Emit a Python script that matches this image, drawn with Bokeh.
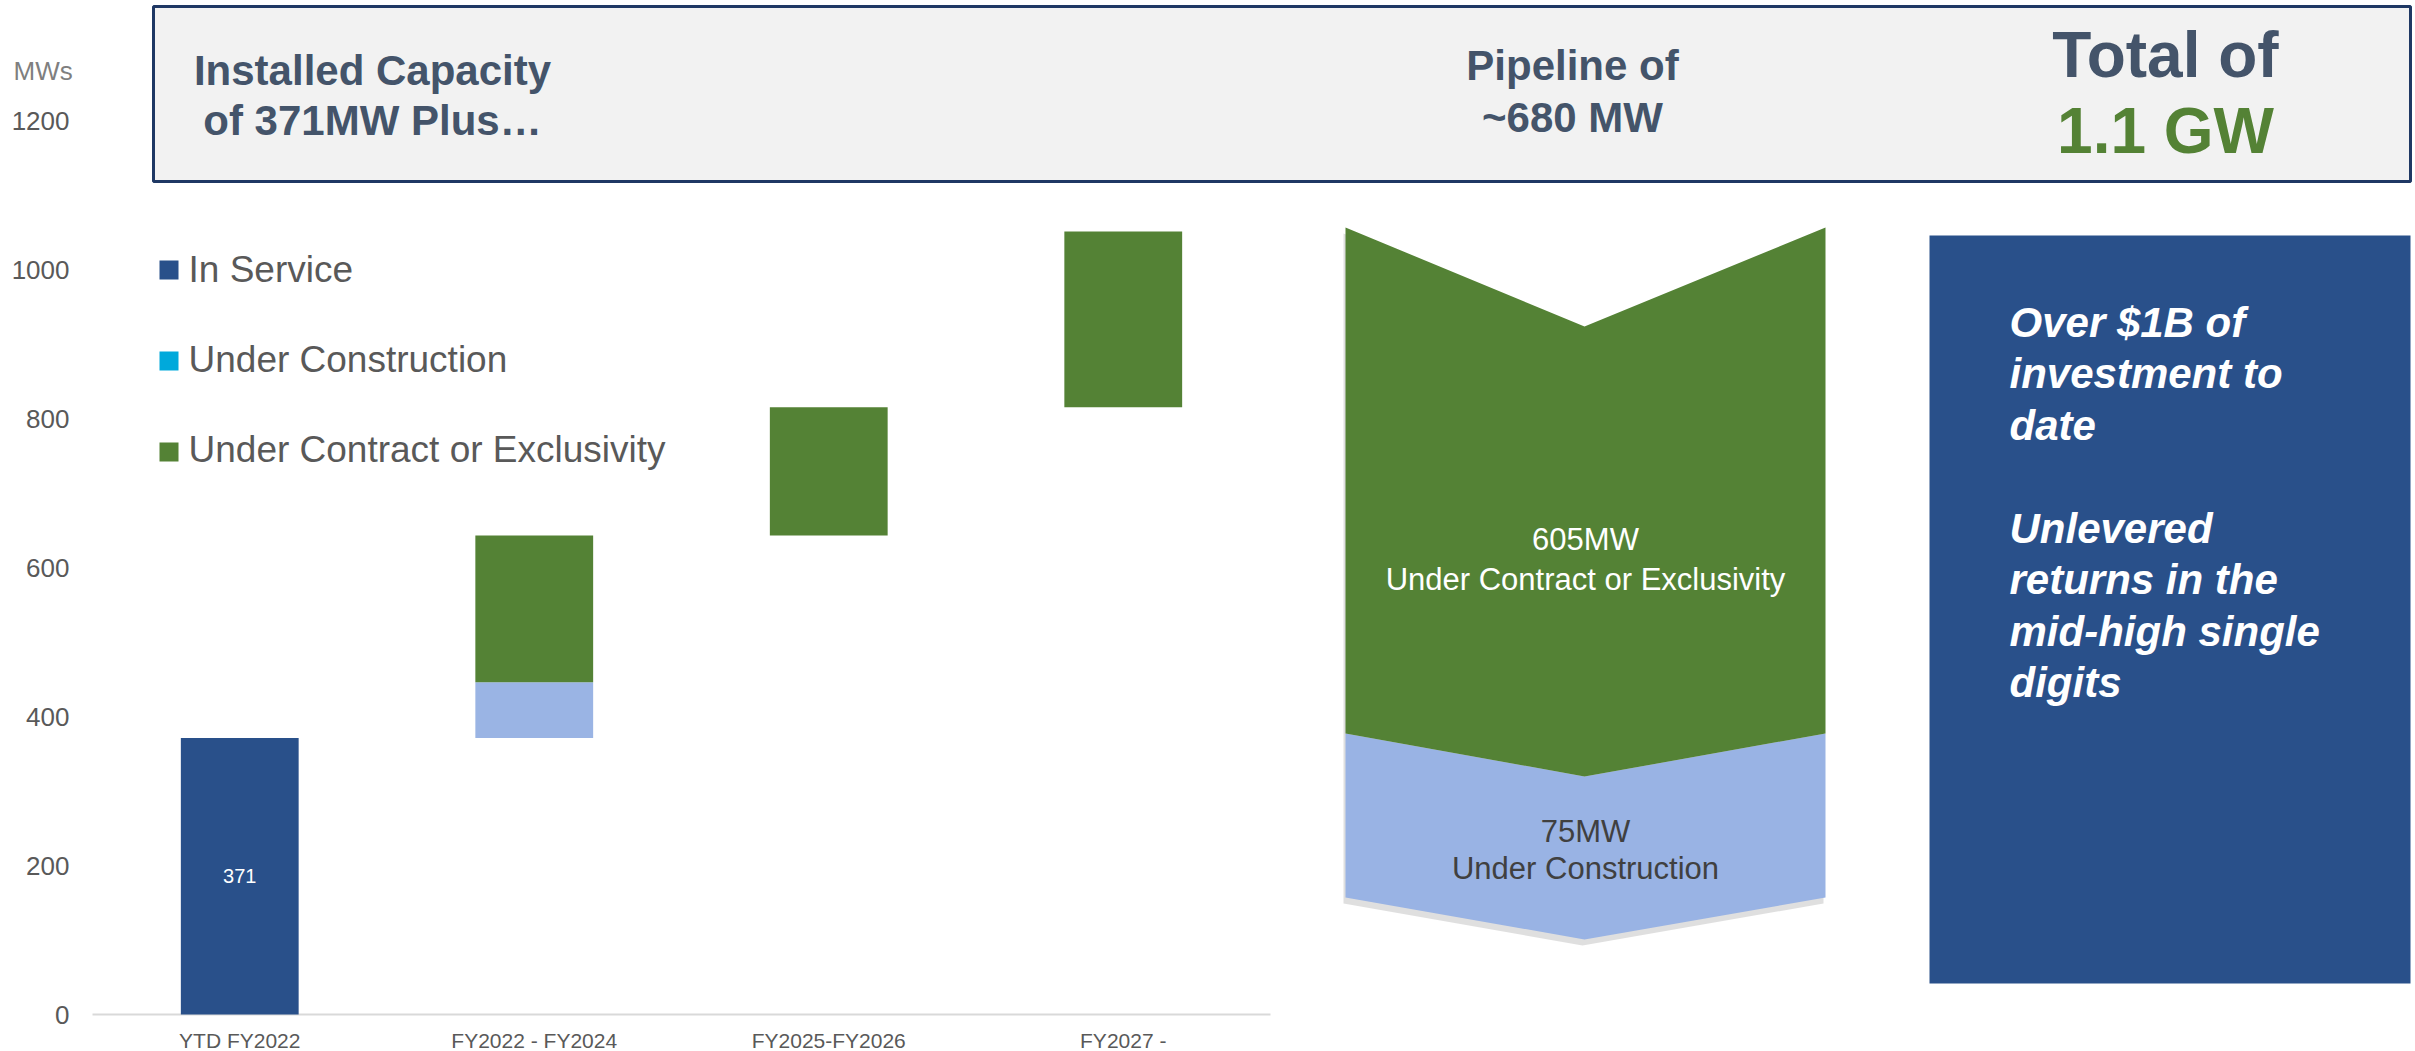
import numpy as np
from bokeh.plotting import figure
from bokeh.models import Range1d, LinearAxis, FixedTicker, ColumnDataSource
from bokeh.core.properties import value
from bokeh.embed import file_html
from bokeh.resources import INLINE

# ---------------- data ----------------
categories = ["YTD FY2022", "FY2022 - FY2024", "FY2025-FY2026", "FY2027 -"]
in_service = [371, 0, 0, 0]
under_construction = [0, 75, 0, 0]
under_contract = [0, 197, 172, 236]
y_ticks = [0, 200, 400, 600, 800, 1000, 1200]
series_names = ["In Service", "Under Construction", "Under Contract or Exclusivity"]
legend_colors = ["#29508A", "#00A9DB", "#548235"]
bar_colors = ["#29508A", "#9AB4E4", "#548235"]
side_notes = ["Over $1B of", "investment to", "date", "",
              "Unlevered", "returns in the", "mid-high single", "digits"]

# ---------------- layout constants ----------------
W, H = 2415, 1051
FONT = "Liberation Sans"
AXIS_X = 92          # pixel x of the value axis / start of first category slot
BASE_Y = 1014        # pixel y of the zero line
CAT_PX = 294.5
MW_PX = 0.745

n = len(categories)
idx = np.arange(n)
ins = np.array(in_service)
uc = np.array(under_construction)
ucx = np.array(under_contract)
totals = ins + uc + ucx
start = np.concatenate([[0], np.cumsum(totals)[:-1]])
is_top = start + ins
uc_top = is_top + uc
ucx_top = uc_top + ucx

x0 = -0.5 - AXIS_X / CAT_PX
p = figure(width=W, height=H, output_backend="svg", toolbar_location=None,
           x_range=Range1d(x0, x0 + W / CAT_PX),
           y_range=Range1d(-(H - BASE_Y) / MW_PX, BASE_Y / MW_PX),
           x_axis_type=None, y_axis_type=None,
           min_border_left=0, min_border_right=0, min_border_top=0, min_border_bottom=0)
p.extra_x_ranges = {"px": Range1d(0, W)}
p.extra_y_ranges = {"py": Range1d(H, 0)}
p.outline_line_color = None
p.background_fill_color = "white"
p.border_fill_color = "white"

# axes (fixed inside the frame)
yaxis = LinearAxis(ticker=FixedTicker(ticks=y_ticks), fixed_location=-0.5,
                   axis_line_color=None,
                   major_tick_line_color=None, minor_tick_line_color=None,
                   major_tick_out=0, major_tick_in=0, major_label_standoff=23,
                   major_label_text_font=FONT, major_label_text_font_size="26px",
                   major_label_text_color="#595959")
p.add_layout(yaxis, "left")

xaxis = LinearAxis(ticker=FixedTicker(ticks=[int(i) for i in idx]), fixed_location=0,
                   major_label_overrides={int(i): c for i, c in zip(idx, categories)},
                   axis_line_color=None, major_tick_line_color=None,
                   minor_tick_line_color=None, major_tick_out=0, major_tick_in=0,
                   major_label_standoff=14, major_label_text_font=FONT,
                   major_label_text_font_size="21px", major_label_text_color="#595959")
p.add_layout(xaxis, "below")

# header box (decoration, pixel coordinates)
p.quad(left=[153], right=[2410], top=[6], bottom=[181], x_range_name="px", y_range_name="py",
       fill_color="#F2F2F2", line_color="#1F3864", line_width=3)

def txt(x, y, t, size, color, style="normal", align="center", baseline="middle"):
    p.text(x=x, y=y, text=t, x_range_name="px", y_range_name="py",
           text_font=value(FONT), text_font_size=size, text_font_style=style,
           text_color=color, text_align=align, text_baseline=baseline)

txt([372, 372], [70, 120], ["Installed Capacity", f"of {in_service[0]}MW Plus\u2026"],
    "42px", "#44546A", "bold")
pipeline = int(uc.sum() + ucx.sum())
txt([1572, 1572], [65, 117], ["Pipeline of", f"~{pipeline} MW"], "42px", "#44546A", "bold")
txt([2165], [54], ["Total of"], "64px", "#44546A", "bold")
txt([2165], [130], [f"{totals.sum() / 1000:.1f} GW"], "64px", "#548235", "bold")

# axis unit label
txt([13], [70], ["MWs"], "26px", "#7F7F7F", align="left")

# baseline
p.segment(x0=[-0.5], x1=[n - 0.5], y0=[0], y1=[0], line_color="#D9D9D9", line_width=2)

# bars
src = ColumnDataSource(dict(x=idx, start=start, is_top=is_top, uc_top=uc_top, ucx_top=ucx_top))
p.vbar(x="x", width=0.4, bottom="start", top="is_top", source=src,
       fill_color=bar_colors[0], line_color=None)
p.vbar(x="x", width=0.4, bottom="is_top", top="uc_top", source=src,
       fill_color=bar_colors[1], line_color=None)
p.vbar(x="x", width=0.4, bottom="uc_top", top="ucx_top", source=src,
       fill_color=bar_colors[2], line_color=None)
p.text(x=[0], y=[in_service[0] / 2], text=[str(in_service[0])], text_color="white",
       text_font=value(FONT), text_font_size="20px", text_align="center",
       text_baseline="middle")

# legend
p.rect(x=[168.5] * 3, y=[269.5, 360.5, 451.5], width=19, height=19,
       x_range_name="px", y_range_name="py", fill_color=legend_colors, line_color=None)
txt([188] * 3, [269, 359, 449], series_names, "37px", "#595959", align="left")

# chevron
p.patch([1343, 1582, 1823, 1823, 1582, 1343], [233, 332, 233, 903, 945, 903],
        x_range_name="px", y_range_name="py",
        fill_color="#808080", fill_alpha=0.25, line_color=None)
p.patch([1345, 1584, 1825, 1825, 1584, 1345], [733, 776, 733, 897, 939, 897],
        x_range_name="px", y_range_name="py", fill_color="#99B3E4", line_color=None)
p.patch([1345, 1584, 1825, 1825, 1584, 1345], [227, 326, 227, 733, 776, 733],
        x_range_name="px", y_range_name="py", fill_color="#548235", line_color=None)
txt([1585, 1585], [539, 579], [f"{int(ucx.sum())}MW", series_names[2]], "31px", "white")
txt([1585, 1585], [831, 868], [f"{int(uc.sum())}MW", series_names[1]], "31px", "#404040")

# blue notes box
p.quad(left=[1929], right=[2410], top=[235], bottom=[983], x_range_name="px", y_range_name="py",
       fill_color="#29508A", line_color=None)
note_y = [321.5 + 51.5 * i for i in range(len(side_notes))]
txt([2009] * len(side_notes), note_y, side_notes, "42px", "white", "bold italic",
    align="left")

open("out.html", "w").write(file_html(p, INLINE, title="Capacity"))
